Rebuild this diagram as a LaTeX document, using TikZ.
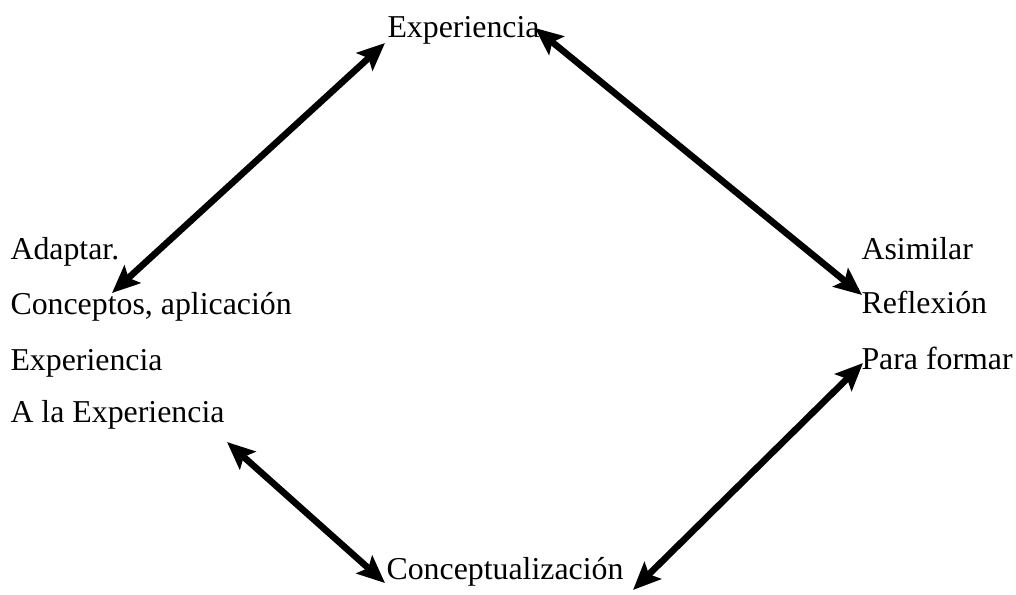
\documentclass[tikz,border=0pt]{standalone}
\usepackage{fontspec}
\setmainfont{Liberation Serif}
\usetikzlibrary{arrows.meta}
\tikzset{
	lbl/.style={anchor=base west, inner sep=0pt, font=\fontsize{12.1pt}{14pt}\selectfont},
	dbl/.style={line width=2.5pt, {Stealth[length=10.5pt,width=9pt,inset=2pt]}-{Stealth[length=10.5pt,width=9pt,inset=2pt]}},
}
\begin{document}
\begin{tikzpicture}[x=0.38pt,y=-0.38pt]
	\useasboundingbox (0,0) rectangle (1016,594);
	% top and bottom
	\node[lbl] (exptop) at (387,37) {Experiencia};
	\node[lbl] (concl) at (386,579) {Conceptualización};
	% left column
	\node[lbl] (adapt) at (10,259) {Adaptar.};
	\node[lbl] (concep) at (10,314) {Conceptos, aplicación};
	\node[lbl] (expleft) at (10,370) {Experiencia};
	\node[lbl] (alaexp) at (10,422) {A la Experiencia};
	% right column
	\node[lbl] (asim) at (861,259) {Asimilar};
	\node[lbl] (refl) at (861,313) {Reflexión};
	\node[lbl] (para) at (861,369) {Para formar};

	% arrow ends
	\coordinate (tl) at (385,43);
	\coordinate (tr) at (535,28);
	\coordinate (lt) at (112,293);
	\coordinate (rt) at (862,295);
	\coordinate (lb) at (227,442);
	\coordinate (rb) at (863,363);
	\coordinate (bl) at (385,583);
	\coordinate (br) at (633,590);

	\draw[dbl] (tl) -- (lt);
	\draw[dbl] (tr) -- (rt);
	\draw[dbl] (lb) -- (bl);
	\draw[dbl] (rb) -- (br);
\end{tikzpicture}
\end{document}
